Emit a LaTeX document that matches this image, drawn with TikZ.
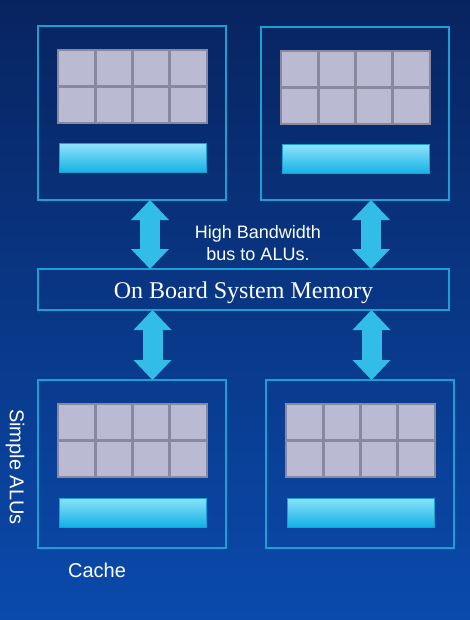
\documentclass[tikz,border=0pt]{standalone}
\usepackage{fontspec}
\setmainfont{Liberation Serif}
\newfontfamily\arialfont{Liberation Sans}
\usetikzlibrary{arrows.meta}
\definecolor{bgtop}{RGB}{8,36,96}
\definecolor{bgmid}{RGB}{10,70,162}
\definecolor{bgbot}{RGB}{10,74,172}
\definecolor{boxline}{RGB}{25,160,212}
\definecolor{cellfill}{RGB}{186,186,210}
\definecolor{cellline}{RGB}{136,136,158}
\definecolor{barlight}{RGB}{140,226,250}
\definecolor{bardark}{RGB}{18,176,228}
\definecolor{buscol}{RGB}{50,188,232}
\tikzset{
  block/.style={draw=boxline,line width=2pt,minimum width=188pt,inner sep=0pt,outer sep=0pt},
  cell/.style={fill=cellfill,draw=cellline,line width=2.8pt,minimum width=37.25pt,minimum height=36.5pt,inner sep=0pt},
  cachebar/.style={top color=barlight,bottom color=bardark,draw=boxline,line width=1pt,minimum width=147pt,minimum height=29pt,inner sep=0pt},
  bus/.style={draw=buscol,line width=20pt,{Triangle[length=20pt,width=38pt,line width=0pt]}-{Triangle[length=20pt,width=38pt,line width=0pt]}},
  sidetext/.style={text=white,font=\arialfont\fontsize{18}{22}\selectfont,align=center}
}
\begin{document}
\begin{tikzpicture}[x=1pt,y=-1pt]
\useasboundingbox (0,0) rectangle (470,620);
\shade[top color=bgtop,middle color=bgmid,bottom color=bgbot] (0,0) rectangle (470,620);
\foreach \n/\bx/\by/\bh in {tl/38/26/174, tr/261/27/173, bl/38/380/168, br/266/380/168}{
  \node[block,minimum height=\bh*1pt] (\n) at (\bx+94,\by+\bh/2) {};
  \foreach \c in {0,...,3} \foreach \r in {0,1}
    \node[cell] (\n-\c\r) at (\bx+38.6+37.25*\c,\by+42.25+36.5*\r) {};
  \node[cachebar] (\n-bar) at (\bx+94.5,\by+132.5) {};
}
\node[block,minimum width=411pt,minimum height=41pt] (mem) at (243.5,289.5) {};
\node[text=white,font=\fontsize{24}{28}\selectfont] (memtext) at ([yshift=-3.5pt]mem.center) {On Board System Memory};
\draw[bus] ([xshift=18pt]tl.south) -- ([xshift=18pt]tl.south |- mem.north);
\draw[bus] ([xshift=16pt]tr.south) -- ([xshift=16pt]tr.south |- mem.north);
\draw[bus] ([xshift=20.5pt]bl.north) -- ([xshift=20.5pt]bl.north |- mem.south);
\draw[bus] ([xshift=11.5pt]br.north) -- ([xshift=11.5pt]br.north |- mem.south);
\node[sidetext] (bw) at (258,243) {High Bandwidth\\bus to ALUs.};
\node[sidetext,font=\arialfont\fontsize{20}{24}\selectfont] (cache) at (97,570) {Cache};
\node[sidetext,font=\arialfont\fontsize{20}{24}\selectfont,rotate=-90] (alus) at (15,467) {Simple ALUs};
\end{tikzpicture}
\end{document}
